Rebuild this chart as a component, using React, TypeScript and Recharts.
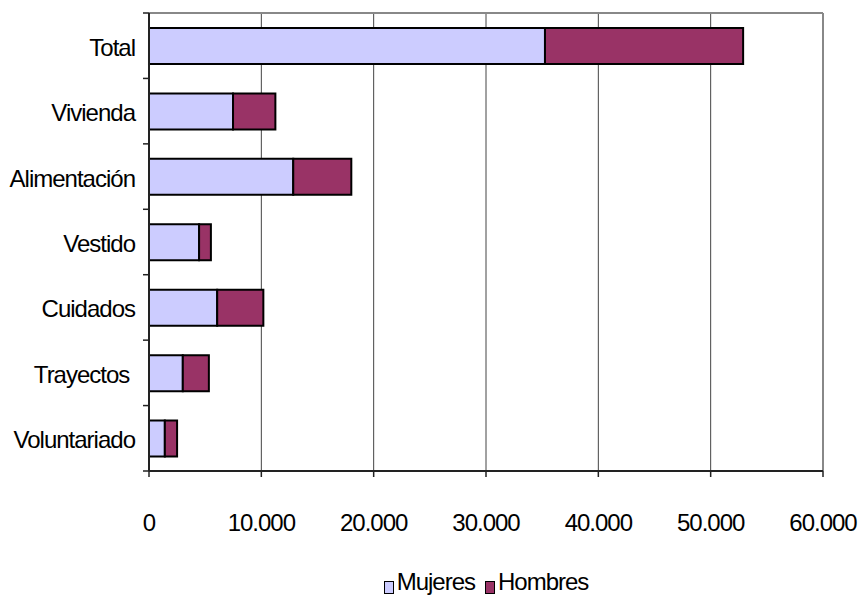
import React from 'react';
import { BarChart, Bar, XAxis, YAxis, CartesianGrid, Legend } from 'recharts';

const categories = ['Total', 'Vivienda', 'Alimentación', 'Vestido', 'Cuidados', 'Trayectos ', 'Voluntariado'];
const mujeres = [35250, 7480, 12840, 4460, 6070, 3010, 1410];
const hombres = [17640, 3770, 5170, 1050, 4110, 2320, 1090];
const xTicks = [0, 10000, 20000, 30000, 40000, 50000, 60000];

const data = categories.map((name, i) => ({ name, Mujeres: mujeres[i], Hombres: hombres[i] }));

const W = 861;
const H = 595;
const MARGIN = { top: 13, right: 38, left: 0, bottom: 0 };
const Y_AXIS_W = 149;
const X_AXIS_H = 84;
const LEGEND_H = 40;
const PLOT_H = H - MARGIN.top - MARGIN.bottom - X_AXIS_H - LEGEND_H;
const BAND = PLOT_H / categories.length;

const FONT = '"Liberation Sans", Arial, sans-serif';
const AXIS = '#222';

const fmt = (v: number) => String(v).replace(/\B(?=(\d{3})+(?!\d))/g, '.');

const CategoryTick = (props: any) => {
  const { y, payload, index } = props;
  const half = BAND / 2;
  return (
    <g>
      <line x1={Y_AXIS_W - 6} x2={Y_AXIS_W} y1={y - half} y2={y - half} stroke={AXIS} strokeWidth={1.5} />
      {index === categories.length - 1 && (
        <line x1={Y_AXIS_W - 6} x2={Y_AXIS_W} y1={y + half} y2={y + half} stroke={AXIS} strokeWidth={1.5} />
      )}
      <text
        x={Y_AXIS_W - 14}
        y={y}
        dy={10}
        textAnchor="end"
        fill="#000"
        style={{ fontFamily: FONT, fontSize: 24, letterSpacing: -1, whiteSpace: 'pre' }}
      >
        {payload.value}
      </text>
    </g>
  );
};

const ValueTick = (props: any) => {
  const { x, payload } = props;
  return (
    <text
      x={x}
      y={H - X_AXIS_H - LEGEND_H}
      dy={60}
      textAnchor="middle"
      fill="#000"
      style={{ fontFamily: FONT, fontSize: 24, letterSpacing: -1 }}
    >
      {fmt(payload.value)}
    </text>
  );
};

const LegendContent = () => {
  const items = [
    { label: 'Mujeres', color: '#CCCCFF' },
    { label: 'Hombres', color: '#993366' },
  ];
  return (
    <div style={{ display: 'flex', justifyContent: 'center', alignItems: 'flex-end', gap: 10, paddingTop: 15 }}>
      {items.map((it) => (
        <div key={it.label} style={{ display: 'flex', alignItems: 'flex-end', gap: 3 }}>
          <div style={{ width: 8, height: 11, background: it.color, border: '1.5px solid #000' }} />
          <span style={{ fontFamily: FONT, fontSize: 24, letterSpacing: -1, lineHeight: '24px', color: '#000' }}>
            {it.label}
          </span>
        </div>
      ))}
    </div>
  );
};

export default function App() {
  return (
    <div style={{ position: 'absolute', left: 0, top: 0, width: W, height: H, background: '#fff' }}>
      <BarChart width={W} height={H} data={data} layout="vertical" margin={MARGIN} barSize={36}>
        <CartesianGrid horizontal={false} stroke="#444" strokeWidth={1} />
        {/* grey frame on top and right of the plot */}
        <CartesianGrid
          vertical={false}
          horizontalCoordinatesGenerator={({ offset }: any) => [offset.top]}
          stroke="#888"
          strokeWidth={2}
        />
        <CartesianGrid
          horizontal={false}
          verticalCoordinatesGenerator={({ offset }: any) => [offset.left + offset.width]}
          stroke="#888"
          strokeWidth={2}
        />
        <XAxis
          type="number"
          domain={[0, 60000]}
          ticks={xTicks}
          interval={0}
          height={X_AXIS_H}
          tick={<ValueTick />}
          tickSize={6}
          tickLine={{ stroke: AXIS, strokeWidth: 1.5 }}
          axisLine={{ stroke: AXIS, strokeWidth: 2 }}
        />
        <YAxis
          type="category"
          dataKey="name"
          width={Y_AXIS_W}
          tick={<CategoryTick />}
          tickLine={false}
          interval={0}
          axisLine={{ stroke: AXIS, strokeWidth: 2 }}
        />
        <Legend
          verticalAlign="bottom"
          height={LEGEND_H}
          content={<LegendContent />}
          wrapperStyle={{ left: Y_AXIS_W, width: W - Y_AXIS_W - MARGIN.right }}
        />
        <Bar dataKey="Mujeres" stackId="a" fill="#CCCCFF" stroke="#000" strokeWidth={2} isAnimationActive={false} />
        <Bar dataKey="Hombres" stackId="a" fill="#993366" stroke="#000" strokeWidth={2} isAnimationActive={false} />
      </BarChart>
    </div>
  );
}
